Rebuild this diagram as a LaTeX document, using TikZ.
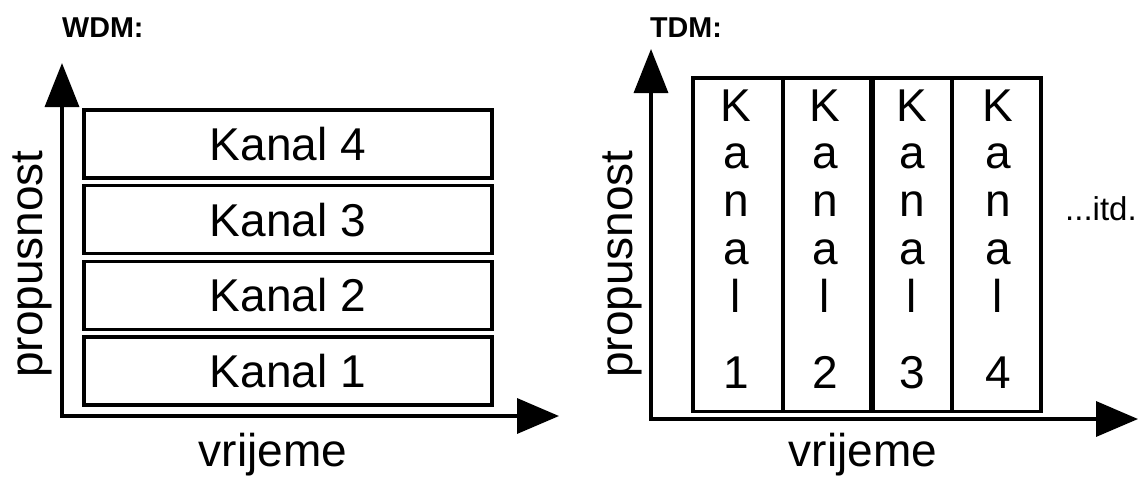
\documentclass[tikz,border=0pt]{standalone}
\usepackage{fontspec}
\setmainfont{Liberation Sans}
\usetikzlibrary{arrows.meta}
\newcommand{\tdmcol}[1]{\vtop{\baselineskip=47.75pt\lineskiplimit=-100pt\halign{\hfil##\hfil\cr K\cr a\cr n\cr a\cr l\cr\noalign{\vskip28.5pt}#1\cr}}}
\tikzset{
  axis/.style={line width=3.5pt, {Triangle[length=44pt,width=34pt]}-{Triangle[length=42pt,width=35pt]}},
  band/.style={draw, line width=3.2pt, inner sep=0pt, font=\fontsize{46}{48}\selectfont},
  big/.style={inner sep=0pt, font=\fontsize{46}{48}\selectfont},
  title/.style={inner sep=0pt, font=\bfseries\fontsize{28.7}{30}\selectfont},
  small/.style={inner sep=0pt, font=\fontsize{33}{35}\selectfont},
}
\begin{document}
\begin{tikzpicture}[x=1pt,y=-1pt]
\useasboundingbox (0,0) rectangle (1139,479);
% ---------- WDM ----------
\node[title, anchor=base west] (wdm) at (62,37) {WDM:};
\coordinate (ly) at (62,63);
\coordinate (lo) at (62,416);
\coordinate (lx) at (559,416);
\draw[axis] (ly) -- (lo) -- (lx);
\node[band, minimum width=408pt, minimum height=68pt] (k4) at (288,144) {Kanal 4};
\node[band, minimum width=408pt, minimum height=68pt] (k3) at (288,219.7) {Kanal 3};
\node[band, minimum width=408pt, minimum height=68pt] (k2) at (288,295.3) {Kanal 2};
\node[band, minimum width=408pt, minimum height=68pt] (k1) at (288,371) {Kanal 1};
\node[big, anchor=base] (vr1) at (273,466) {vrijeme};
\node[big, anchor=base, rotate=90] (pr1) at (42,264) {propusnost};
% ---------- TDM ----------
\node[title, anchor=base west] (tdm) at (650,37) {TDM:};
\coordinate (ry) at (651,49);
\coordinate (ro) at (651,419);
\coordinate (rx) at (1138,419);
\draw[axis] (ry) -- (ro) -- (rx);
\node[band, minimum width=90pt, minimum height=333.5pt] (c1) at (738,244.75) {};
\node[band, minimum width=88pt, minimum height=333.5pt] (c2) at (827,244.75) {};
\node[band, minimum width=78.5pt, minimum height=333.5pt] (c3) at (912.75,244.75) {};
\node[band, minimum width=89pt, minimum height=333.5pt] (c4) at (996.5,244.75) {};
\node[big, anchor=base] (t1) at (736,121) {\tdmcol{1}};
\node[big, anchor=base] (t2) at (825,121) {\tdmcol{2}};
\node[big, anchor=base] (t3) at (912,121) {\tdmcol{3}};
\node[big, anchor=base] (t4) at (998,121) {\tdmcol{4}};
\node[small, anchor=base west] (itd) at (1065,220) {...itd.};
\node[big, anchor=base] (vr2) at (863,466) {vrijeme};
\node[big, anchor=base, rotate=90] (pr2) at (632,264) {propusnost};
\end{tikzpicture}
\end{document}
